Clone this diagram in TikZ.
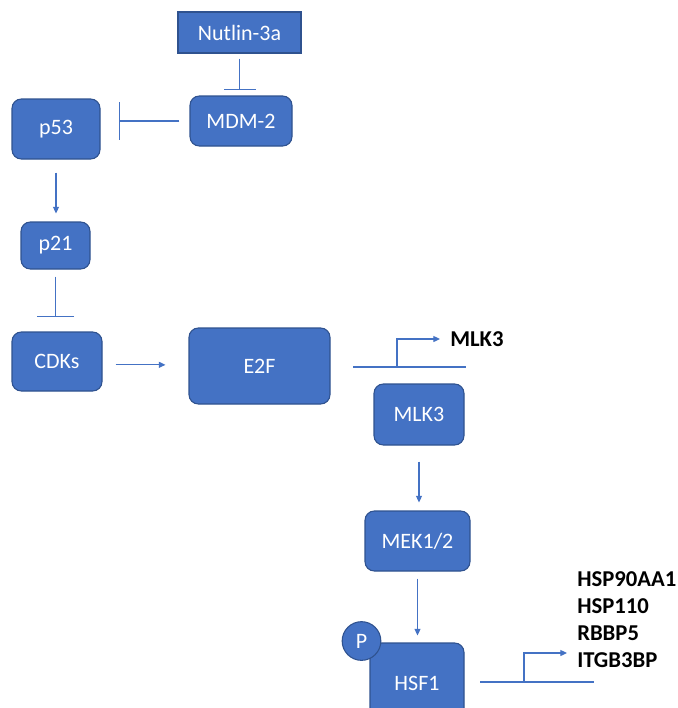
\documentclass[tikz,border=0pt]{standalone}
\usepackage{fontspec}
\setmainfont{Carlito}
\usetikzlibrary{arrows.meta,positioning,shapes}
\definecolor{boxblue}{HTML}{4472C4}
\definecolor{boxedge}{HTML}{2F528F}

\begin{document}
\begin{tikzpicture}[x=0.75pt,y=-0.75pt,
    prot/.style={draw=boxedge, fill=boxblue, rounded corners=7pt, line width=0.8pt, inner sep=0pt,
        text=white, font=\fontsize{16.5}{20}\selectfont},
    drug/.style={prot, rounded corners=0pt},
    act/.style={boxblue, line width=0.9pt, -{Triangle[length=5pt,width=4.5pt]}},
    inh/.style={boxblue, line width=0.9pt, -{Bar[width=#1,line width=0.9pt]}},
    inh/.default=28pt,
    prom/.style={boxblue, line width=1.4pt},
    gene/.style={inner sep=0pt, font=\bfseries\fontsize{17}{20.25}\selectfont}]
    \useasboundingbox[fill=white] (0,0) rectangle (678,708);

    % p53 branch
    \node [drug, minimum width=92.25pt, minimum height=30.75pt] (nut) at (239.5,32.5) {Nutlin-3a};
    \node [prot, minimum width=76.5pt, minimum height=37.5pt] (mdm) at (241,121) {MDM-2};
    \node [prot, minimum width=66pt, minimum height=45pt] (p53) at (56,129) {p53};
    \node [prot, minimum width=51.75pt, minimum height=35.25pt] (p21) at (55.5,245.5) {p21};
    \node [prot, minimum width=67.5pt, minimum height=44.25pt] (cdk) at (57,361.5) {CDKs};
    \node [prot, minimum width=105.75pt, minimum height=57pt] (e2f) at (259.5,366) {E2F};

    % MLK3 cascade
    \node [prot, minimum width=67.5pt, minimum height=45.75pt] (mlk) at (419,414.5) {MLK3};
    \node [prot, minimum width=78.75pt, minimum height=45pt] (mek) at (417.5,541) {MEK1/2};
    \node [prot, minimum width=70.5pt, minimum height=60pt] (hsf) at (417,683) {HSF1};
    \node [prot, circle, minimum size=29pt] (phos) at (361.5,641) {P};

    % target genes
    \node [gene, anchor=west] (mlkgene) at (450,339) {MLK3};
    \node [gene, anchor=north west, align=left] (hspgene) at (577,571) {HSP90AA1\\HSP110\\RBBP5\\ITGB3BP};

    % promoters
    \coordinate (pr1a) at (353,367);
    \coordinate (pr1b) at (466,367);
    \coordinate (tss1) at (397,367);
    \coordinate (pr2a) at (480,682);
    \coordinate (pr2b) at (594,682);
    \coordinate (tss2) at (524,682);
    \coordinate (end2) at (567,653);

    % connectors
    \draw [inh=24pt, shorten <=3.75pt, shorten >=3.75pt] (nut.south) -- (nut.south |- mdm.north);
    \draw [inh, shorten <=7.5pt, shorten >=13.5pt] (mdm.west) -- (mdm.west -| p53.east);
    \draw [act, shorten <=9.75pt, shorten >=6pt] (p53.south) -- (p53.south |- p21.north);
    \draw [inh, shorten <=5.25pt, shorten >=10.5pt] (p21.south) -- (p21.south |- cdk.north);
    \draw [act, shorten <=9.75pt, shorten >=17.25pt] ([yshift=-2.5pt]cdk.east) -- ([yshift=-2.5pt]cdk.east -| e2f.west);
    \draw [act, shorten <=12pt, shorten >=6pt] (mlk.south) -- (mlk.south |- mek.north);
    \draw [act, shorten <=5.25pt, shorten >=5.25pt] (mek.south) -- (mek.south |- hsf.north);

    \draw [prom] (pr1a) -- (pr1b);
    \draw [act] (tss1) |- ([xshift=-7.5pt]mlkgene.west);
    \draw [prom] (pr2a) -- (pr2b);
    \draw [act] (tss2) |- (end2);
\end{tikzpicture}
\end{document}
